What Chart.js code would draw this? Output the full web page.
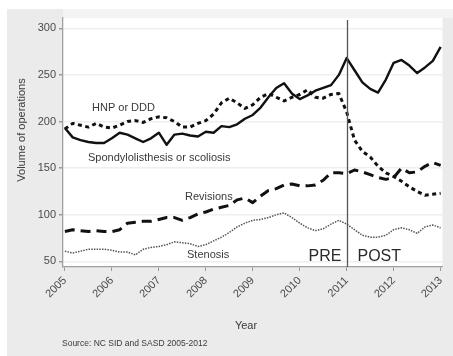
<!DOCTYPE html>
<html>
<head>
<meta charset="utf-8">
<script src="https://cdn.jsdelivr.net/npm/chart.js@4/dist/chart.umd.min.js"></script>
<style>
  html, body { margin: 0; padding: 0; background: #ffffff; }
  canvas { display: block; }
</style>
</head>
<body>
<canvas id="chart" width="453" height="356"></canvas>
<script>
// Two-monthly volumes, January 2005 through January 2013
const startYear = 2005;
const monthsPerPoint = 2;

const spondylolisthesis = [193, 183, 180, 178, 177, 177, 182, 188, 186, 182, 178, 182, 188,
  175, 186, 187, 185, 184, 189, 188, 195, 194, 197, 203, 207, 215, 226, 236, 241, 230, 224,
  228, 233, 236, 239, 250, 268, 255, 242, 235, 231, 245, 263, 266, 260, 252, 258, 265, 280];

const hnpDdd = [192, 198, 196, 194, 198, 194, 193, 196, 200, 201, 199, 203, 205,
  204, 200, 194, 194, 198, 201, 208, 220, 225, 220, 214, 218, 226, 230, 226, 222, 226, 229,
  234, 226, 225, 229, 230, 210, 180, 168, 162, 152, 145, 141, 136, 130, 125, 121, 122, 123];

const revisions = [82, 84, 83, 82, 83, 82, 82, 84, 91, 92, 93, 93, 95,
  97, 97, 94, 97, 101, 103, 106, 108, 110, 116, 118, 113, 120, 126, 128, 132, 133, 131,
  131, 132, 137, 145, 145, 144, 148, 146, 143, 140, 138, 140, 150, 145, 146, 152, 156, 153];

const stenosis = [61, 59, 61, 63, 63, 63, 62, 60, 60, 57, 63, 65, 66,
  68, 71, 70, 69, 66, 68, 72, 76, 81, 87, 91, 94, 95, 97, 100, 102, 97, 91,
  86, 83, 85, 90, 94, 90, 84, 78, 76, 76, 78, 84, 86, 84, 80, 87, 89, 86];

const yearTicks = [2005, 2006, 2007, 2008, 2009, 2010, 2011, 2012, 2013];
const volumeTicks = [50, 100, 150, 200, 250, 300];
const policyYear = 2011;

const seriesLabels = ['Spondylolisthesis or scoliosis', 'HNP or DDD', 'Revisions', 'Stenosis'];
const sourceNote = 'Source: NC SID and SASD 2005-2012';

const FONT = '"Liberation Sans", Arial, sans-serif';

function toPoints(values) {
  return values.map((v, i) => ({ x: startYear + i * monthsPerPoint / 12, y: v }));
}

// Backgrounds, the PRE/POST divider and the in-plot labels
const decorations = {
  id: 'decorations',
  beforeDraw(chart) {
    const { ctx, chartArea: a } = chart;
    ctx.save();
    ctx.fillStyle = '#ffffff';
    ctx.fillRect(0, 0, chart.width, chart.height);
    ctx.fillStyle = '#ebebeb';
    ctx.fillRect(7, 9, chart.width - 7, chart.height - 9);
    ctx.fillStyle = '#f4f4f4';
    ctx.fillRect(a.left, 9, chart.width - a.left, a.top - 9);
    ctx.fillStyle = '#ffffff';
    ctx.fillRect(a.left, a.top, a.right - a.left, a.bottom - a.top);
    ctx.restore();
  },
  afterDatasetsDraw(chart) {
    const { ctx, chartArea: a, scales } = chart;
    const x = scales.x;
    ctx.save();
    const px = Math.round(x.getPixelForValue(policyYear)) + 0.5;
    ctx.strokeStyle = '#555555';
    ctx.lineWidth = 1.3;
    ctx.beginPath();
    ctx.moveTo(px, a.top + 2);
    ctx.lineTo(px, a.bottom);
    ctx.stroke();

    ctx.fillStyle = '#3a3a3a';
    ctx.textBaseline = 'middle';
    ctx.textAlign = 'left';
    ctx.font = '11px ' + FONT;
    ctx.fillText(seriesLabels[1], 92, 108);
    ctx.fillText(seriesLabels[0], 88, 158);
    ctx.fillText(seriesLabels[2], 185, 197);
    ctx.fillText(seriesLabels[3], 187, 255);

    ctx.font = '16px ' + FONT;
    ctx.fillStyle = '#2a2a2a';
    ctx.textAlign = 'right';
    ctx.fillText('PRE', px - 6, 257);
    ctx.textAlign = 'left';
    ctx.fillText('POST', px + 10, 257);
    ctx.restore();
  },
  afterDraw(chart) {
    const { ctx } = chart;
    ctx.save();
    ctx.fillStyle = '#3a3a3a';
    ctx.textBaseline = 'middle';
    ctx.font = '11px ' + FONT;
    ctx.textAlign = 'center';
    ctx.fillText('Year', 246, 326);
    ctx.translate(22, 130);
    ctx.rotate(-Math.PI / 2);
    ctx.fillText('Volume of operations', 0, 0);
    ctx.restore();

    ctx.save();
    ctx.fillStyle = '#3a3a3a';
    ctx.font = '8.5px ' + FONT;
    ctx.textBaseline = 'middle';
    ctx.textAlign = 'left';
    ctx.fillText(sourceNote, 62, 344);
    ctx.restore();
  }
};

const lineBase = {
  pointRadius: 0,
  tension: 0,
  fill: false,
  borderJoinStyle: 'round'
};

new Chart(document.getElementById('chart'), {
  type: 'line',
  data: {
    datasets: [
      Object.assign({}, lineBase, {
        label: seriesLabels[0],
        data: toPoints(spondylolisthesis),
        borderColor: '#111111',
        borderWidth: 2.4
      }),
      Object.assign({}, lineBase, {
        label: seriesLabels[1],
        data: toPoints(hnpDdd),
        borderColor: '#111111',
        borderWidth: 3,
        borderDash: [4, 3.5]
      }),
      Object.assign({}, lineBase, {
        label: seriesLabels[2],
        data: toPoints(revisions),
        borderColor: '#111111',
        borderWidth: 3,
        borderDash: [10, 6]
      }),
      Object.assign({}, lineBase, {
        label: seriesLabels[3],
        data: toPoints(stenosis),
        borderColor: '#555555',
        borderWidth: 1.5,
        borderDash: [1.5, 1.2]
      })
    ]
  },
  options: {
    responsive: false,
    animation: false,
    devicePixelRatio: 1,
    layout: { padding: { left: 0, top: 18, right: 4, bottom: 0 } },
    plugins: {
      legend: { display: false },
      tooltip: { enabled: false }
    },
    scales: {
      x: {
        type: 'linear',
        min: 2004.96,
        max: 2013.04,
        afterBuildTicks(scale) { scale.ticks = yearTicks.map(v => ({ value: v })); },
        afterFit(scale) { scale.height = 89; },
        ticks: {
          minRotation: 45,
          maxRotation: 45,
          padding: 3,
          color: '#4a4a4a',
          font: { family: FONT, size: 11 },
          callback: v => String(v)
        },
        grid: { drawOnChartArea: false, drawTicks: true, tickLength: 4, tickColor: '#999999' },
        border: { color: '#a0a0a0', width: 1.3 }
      },
      y: {
        min: 44,
        max: 311,
        afterBuildTicks(scale) { scale.ticks = volumeTicks.map(v => ({ value: v })); },
        afterFit(scale) { scale.width = 63; },
        ticks: {
          padding: 3,
          color: '#4a4a4a',
          font: { family: FONT, size: 11 }
        },
        grid: { color: '#efefef', lineWidth: 1.5, tickLength: 4, tickColor: '#999999' },
        border: { color: '#a0a0a0', width: 1.3 }
      }
    }
  },
  plugins: [decorations]
});
</script>
</body>
</html>
